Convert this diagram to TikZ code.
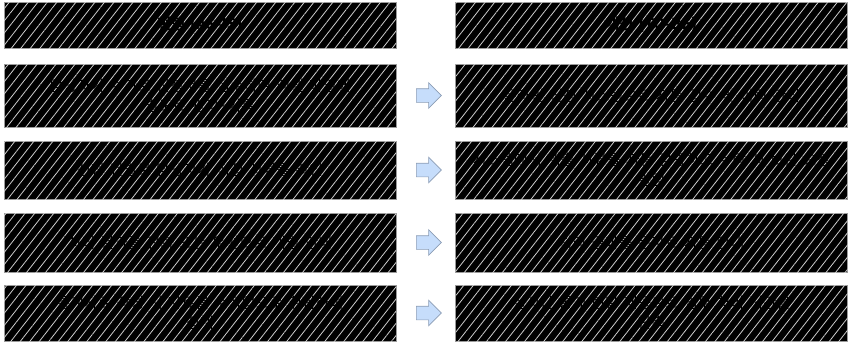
\documentclass[tikz,border=0pt]{standalone}
\usepackage{fontspec}
\newfontfamily\krfont{Noto Sans CJK KR}
\usepackage{tikz}
\usetikzlibrary{patterns.meta,shapes.arrows}
\definecolor{edge}{HTML}{9A9A9A}
\definecolor{arrfill}{HTML}{C6DDFB}
\definecolor{arrline}{HTML}{8C9DB5}
\tikzset{
  hatch_box/.style={draw=edge,fill=black,line width=0.8pt,
    postaction={pattern={Lines[angle=52,distance=7.5pt,line width=0.8pt]},pattern color=white!80!black},
    minimum width=392pt,inner sep=4pt,align=center,text width=384pt,
    font=\krfont\fontsize{15}{20}\selectfont\color{black}},
  hdr_box/.style={hatch_box,minimum height=46pt,font=\krfont\bfseries\fontsize{15}{20}\selectfont\color{black}},
  row_box/.style={hatch_box},
  arr_blk/.style={single arrow,draw=arrline,fill=arrfill,line width=0.6pt,
    minimum height=25pt,inner xsep=0pt,inner ysep=6.5pt,single arrow head extend=6pt},
}
\begin{document}
\begin{tikzpicture}[x=1pt,y=-1pt]
  \useasboundingbox (0,0) rectangle (851,343);
  % headers
  \node[hdr_box] (hl) at (200,25) {현행 (AS-IS)};
  \node[hdr_box] (hr) at (651.5,25) {개선 (TO-BE)};
  % rows
  \node[row_box,minimum height=63pt] (l1) at (200,95.5) {담당자가 수기로 신청서를 접수하여 엑셀 파일에\\별도로 관리·기록};
  \node[row_box,minimum height=63pt] (r1) at (651.5,95.5) {온라인 신청 시스템으로 자동 접수 및 이력 관리};
  \node[row_box,minimum height=58pt] (l2) at (200,170) {신청 건별로 담당자가 직접 서류를 확인};
  \node[row_box,minimum height=58pt] (r2) at (651.5,170) {시스템에서 제출 서류를 자동 검증하고 누락 시 보완 요청\\알림};
  \node[row_box,minimum height=59pt] (l3) at (200,242.5) {처리 결과를 전화 또는 우편으로 개별 안내};
  \node[row_box,minimum height=59pt] (r3) at (651.5,242.5) {처리 결과를 문자로 자동 안내};
  \node[row_box,minimum height=56pt] (l4) at (200,313) {통계자료 작성 시 자료를 수작업으로 취합하여\\집계};
  \node[row_box,minimum height=56pt] (r4) at (651.5,313) {실시간 통계 현황 제공으로 업무 처리 시간을\\단축};
  % arrows
  \foreach \i/\y in {1/95.5,2/170,3/242.5,4/313}
    \node[arr_blk] (a\i) at (425.5,\y) {};
\end{tikzpicture}
\end{document}
